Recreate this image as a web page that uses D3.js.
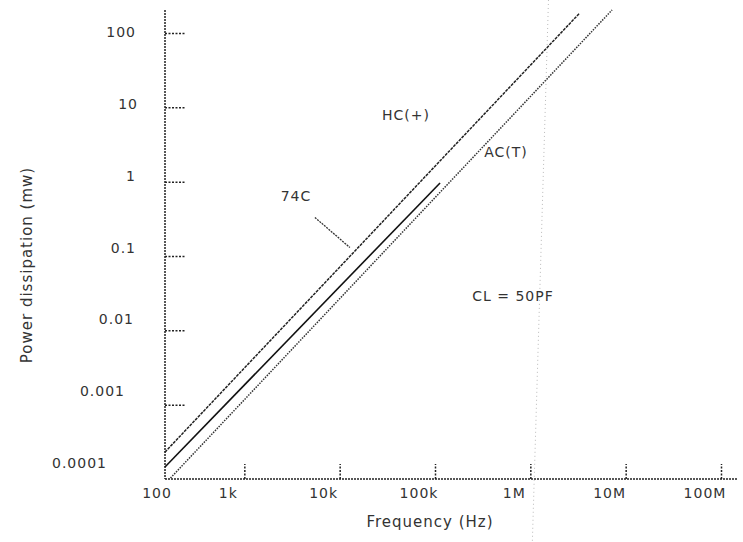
<!DOCTYPE html>
<html><head><meta charset="utf-8">
<script src="https://cdn.jsdelivr.net/npm/d3@7/dist/d3.min.js"></script>
<style>
body{margin:0;background:#fff;}
text{font-family:"DejaVu Sans",sans-serif;fill:#333;}
</style></head>
<body><svg id="chart" width="743" height="542"></svg>
<script>
// ---- data ----
const xTickValues = [100, 1e3, 1e4, 1e5, 1e6, 1e7, 1e8];
const xTickLabels = ["100", "1k", "10k", "100k", "1M", "10M", "100M"];
const yTickValues = [1e-4, 1e-3, 1e-2, 0.1, 1, 10, 100];
const yTickLabels = ["0.0001", "0.001", "0.01", "0.1", "1", "10", "100"];
const seriesNames = ["HC(+)", "74C", "AC(T)"];
const hcFreq = [147, 3.3e6];
const hcPower = [2.3e-4, 186];
const c74Freq = [147, 1.13e5];
const c74Power = [1.45e-4, 0.96];
const acFreq = [168, 7.2e6];
const acPower = [1.03e-4, 204];
const leaderFreq = [5.5e3, 1.28e4];
const leaderPower = [0.33, 0.13];
const noteText = "CL = 50PF";
const xTitle = "Frequency (Hz)";
const yTitle = "Power dissipation (mw)";

// ---- layout ----
const svg = d3.select("#chart");
const frameLeft = 165, frameBottom = 479, frameTop = 10, frameRight = 738;
const x = d3.scaleLog().domain([100, 1e8]).range([149, 721]);
const y = d3.scaleLog().domain([1e-4, 100]).range([479, 33]);
// tick labels in the original sit on a slightly tighter spacing than the ticks
const yLab = d3.scaleLog().domain([1e-4, 100]).range([468, 37]);
const yLabelShift = [-29, -11, -2, 0, 0, 2, 0];

// faint scan crease
svg.append("line")
  .attr("x1", x(1.55e6)).attr("y1", 0).attr("x2", x(1.05e6)).attr("y2", 542)
  .attr("stroke", "#bbb").attr("stroke-width", 1).attr("stroke-dasharray", "1,3");

// axis lines
svg.append("line").attr("x1", frameLeft).attr("x2", frameLeft)
  .attr("y1", frameTop).attr("y2", frameBottom)
  .attr("stroke", "#222").attr("stroke-width", 1.5).attr("stroke-dasharray", "2,1");
svg.append("line").attr("x1", frameLeft).attr("x2", frameRight)
  .attr("y1", frameBottom).attr("y2", frameBottom)
  .attr("stroke", "#222").attr("stroke-width", 1.5).attr("stroke-dasharray", "2,1");

// x ticks (upwards)
const gx = svg.append("g").attr("transform", `translate(0,${frameBottom})`)
  .call(d3.axisBottom(x).tickValues(xTickValues.slice(1)).tickSize(-15).tickFormat(""));
gx.select(".domain").remove();
gx.selectAll(".tick line").attr("stroke", "#222").attr("stroke-width", 1.5).attr("stroke-dasharray", "2,1.5");

svg.append("g").selectAll("text").data(xTickValues).join("text")
  .attr("x", (d) => Math.max(x(d) - 16, frameLeft - 8))
  .attr("y", 498)
  .attr("text-anchor", "middle")
  .style("font-size", "14px").style("letter-spacing", "1px")
  .text((d, i) => xTickLabels[i]);

// y ticks (rightwards)
const gy = svg.append("g").attr("transform", `translate(${frameLeft},0)`)
  .call(d3.axisRight(y).tickValues(yTickValues.slice(1)).tickSize(20).tickFormat(""));
gy.select(".domain").remove();
gy.selectAll(".tick line").attr("stroke", "#222").attr("stroke-width", 1.5).attr("stroke-dasharray", "2,1.5");

svg.append("g").selectAll("text").data(yTickValues).join("text")
  .attr("x", (d, i) => 136 + yLabelShift[i])
  .attr("y", (d) => yLab(d))
  .attr("text-anchor", "end")
  .style("font-size", "14px").style("letter-spacing", "1px")
  .text((d, i) => yTickLabels[i]);

// titles
svg.append("text").attr("x", 430).attr("y", 527).attr("text-anchor", "middle")
  .style("font-size", "15px").style("letter-spacing", "1px").text(xTitle);
svg.append("text").attr("transform", "translate(32,265) rotate(-90)").attr("text-anchor", "middle")
  .style("font-size", "15px").style("letter-spacing", "1px").text(yTitle);

// series lines
const line = d3.line().x((d) => x(d[0])).y((d) => y(d[1]));
const series = [
  {name: seriesNames[0], pts: d3.zip(hcFreq, hcPower), stroke: "#222", w: 1.5, dash: "3,1"},
  {name: seriesNames[1], pts: d3.zip(c74Freq, c74Power), stroke: "#111", w: 1.6, dash: null},
  {name: seriesNames[2], pts: d3.zip(acFreq, acPower), stroke: "#333", w: 1.5, dash: "1.5,1.2"}
];
svg.append("g").selectAll("path").data(series).join("path")
  .attr("d", (d) => line(d.pts))
  .attr("fill", "none")
  .attr("stroke", (d) => d.stroke)
  .attr("stroke-width", (d) => d.w)
  .attr("stroke-dasharray", (d) => d.dash);

// labels
svg.append("text").attr("x", 406).attr("y", 120).attr("text-anchor", "middle")
  .style("font-size", "14px").style("letter-spacing", "1px").text(seriesNames[0]);
svg.append("text").attr("x", 296).attr("y", 201).attr("text-anchor", "middle")
  .style("font-size", "14px").style("letter-spacing", "1px").text(seriesNames[1]);
svg.append("text").attr("x", 506).attr("y", 157).attr("text-anchor", "middle")
  .style("font-size", "14px").style("letter-spacing", "1px").text(seriesNames[2]);
// leader for 74C
svg.append("path")
  .attr("d", line(d3.zip(leaderFreq, leaderPower)))
  .attr("fill", "none")
  .attr("stroke", "#333").attr("stroke-width", 1.3).attr("stroke-dasharray", "2,1");
svg.append("text").attr("x", 513).attr("y", 301).attr("text-anchor", "middle")
  .style("font-size", "14px").style("letter-spacing", "1px").text(noteText);
</script></body></html>
